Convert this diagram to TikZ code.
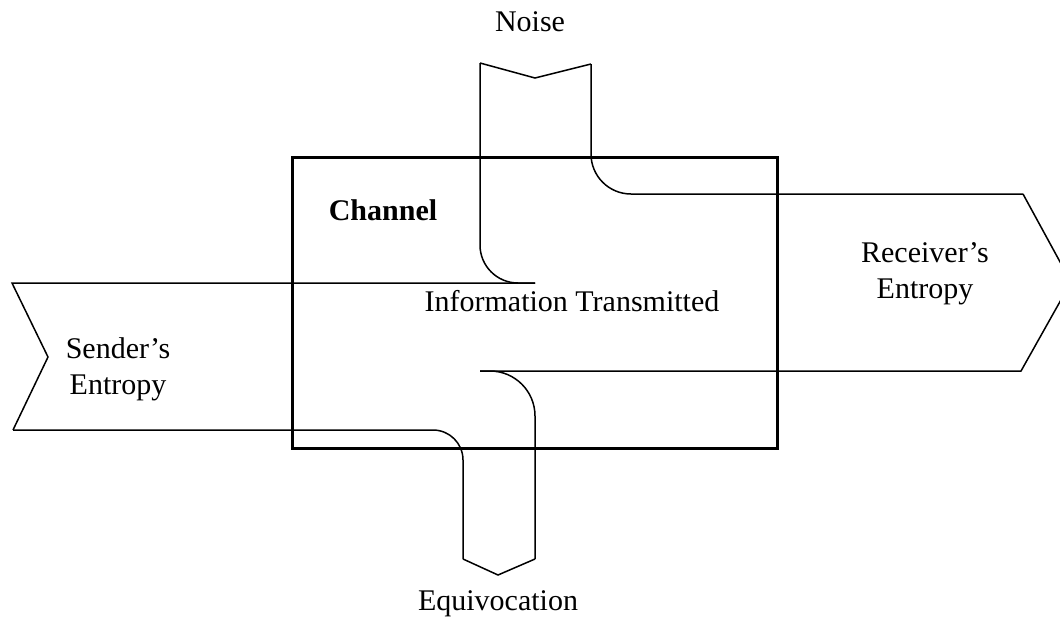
\documentclass[tikz,border=0pt]{standalone}
\usepackage{fontspec}
\setmainfont{Liberation Serif}
\usetikzlibrary{positioning,calc}
\tikzset{
    edge/.style={line width=1.5pt, line join=miter},
    bend/.style={edge, rounded corners=#1},
    chanbox/.style={draw, line width=3pt, minimum width=485pt, minimum height=291pt, inner sep=0pt},
    txt/.style={font=\fontsize{30}{36}\selectfont, align=center, inner sep=0pt}
}

\begin{document}
\begin{tikzpicture}[x=1pt, y=-1pt]
    \useasboundingbox (0,0) rectangle (1060,622);
    \clip (0,0) rectangle (1060,622);
    % corners of the flows
    \coordinate (n1) at (480,63);
    \coordinate (n2) at (535,78);
    \coordinate (n3) at (591,64);
    \coordinate (it1) at (535,283);
    \coordinate (it2) at (480,371);
    \coordinate (rt) at (1023,194);
    \coordinate (tip) at (1071,282);
    \coordinate (rb) at (1021,371);
    \coordinate (e1) at (463,559);
    \coordinate (e2) at (498,575);
    \coordinate (e3) at (535,559);
    \coordinate (st) at (12,283);
    \coordinate (sn) at (48,357);
    \coordinate (sb) at (13,430);
    % channel
    \node[chanbox] (chan) at (534.5,302.5) {};
    % noise in
    \draw[edge] (n1) -- (n2) -- (n3);
    \draw[bend=38pt] (n1) |- (it1);
    \draw[bend=40pt] (n3) |- (rt);
    % receiver out
    \draw[edge] (rt) -- (tip) -- (rb) -- (it2);
    % equivocation out
    \draw[bend=45pt] (it2) -| (e3);
    \draw[edge] (e3) -- (e2) -- (e1);
    \draw[bend=30pt] (e1) |- (sb);
    % sender in
    \draw[edge] (sb) -- (sn) -- (st) -- (it1);
    % labels
    \node[txt] (noise) at (530,22) {Noise};
    \node[txt, font=\fontsize{30}{36}\selectfont\bfseries] (chanlbl) at (383,210) {Channel};
    \node[txt] (info) at (572,301) {Information Transmitted};
    \node[txt] (send) at (118,369) {Sender's\\Entropy};
    \node[txt] (recv) at (925,274) {Receiver's\\Entropy};
    \node[txt] (equiv) at (498,604) {Equivocation};
\end{tikzpicture}
\end{document}
